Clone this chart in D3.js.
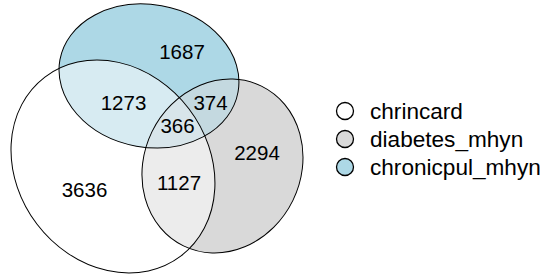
<!DOCTYPE html>
<html>
<head>
<meta charset="utf-8">
<script src="https://cdn.jsdelivr.net/npm/d3@7"></script>
<style>
  body { margin: 0; background: #fff; }
  text { font-family: "Liberation Sans", Arial, Helvetica, sans-serif; fill: #000; }
</style>
</head>
<body>
<svg id="chart"></svg>
<script>
const sets = ["chrincard", "diabetes_mhyn", "chronicpul_mhyn"];
// each combination lists the sets it belongs to (indexes into sets)
const combos = [[0], [1], [2], [0, 1], [0, 2], [1, 2], [0, 1, 2]];
const counts = [3636, 2294, 1687, 1127, 1273, 374, 366];

// euler fit of the three ellipses: centre (h, k), semi axes (a, b), rotation phi, y up
const fit = [
  {h: -4.4, k: -2.8, a: 11.24, b: 9.54, phi: -0.92},
  {h: 6.55, k: -2.75, a: 7.84, b: 8.89, phi: -0.454},
  {h: -0.8, k: 6.25, a: 9.05, b: 7.13, phi: -0.178}
];

const setColors = ["#ffffff", "#d9d9d9", "#add8e6"];

const chartSize = {width: 543, height: 274};
const box = {left: 11, right: 303, top: 4, bottom: 273};

const halfW = e => Math.sqrt((e.a * Math.cos(e.phi)) ** 2 + (e.b * Math.sin(e.phi)) ** 2);
const halfH = e => Math.sqrt((e.a * Math.sin(e.phi)) ** 2 + (e.b * Math.cos(e.phi)) ** 2);

const mixColor = idx => {
  const labs = idx.map(i => d3.lab(setColors[i]));
  return d3.lab(d3.mean(labs, c => c.l), d3.mean(labs, c => c.a), d3.mean(labs, c => c.b)).formatHex();
};

const drawEuler = () => {
  const xMin = d3.min(fit, e => e.h - halfW(e));
  const xMax = d3.max(fit, e => e.h + halfW(e));
  const yMin = d3.min(fit, e => e.k - halfH(e));
  const yMax = d3.max(fit, e => e.k + halfH(e));
  const unit = Math.min((box.right - box.left) / (xMax - xMin), (box.bottom - box.top) / (yMax - yMin));

  const x = d3.scaleLinear().domain([xMin, xMax]).range([box.left, box.left + unit * (xMax - xMin)]);
  const y = d3.scaleLinear().domain([yMin, yMax]).range([box.top + unit * (yMax - yMin), box.top]);

  const shapes = fit.map(e => ({
    cx: x(e.h), cy: y(e.k), rx: e.a * unit, ry: e.b * unit, rot: -e.phi
  }));

  const svg = d3.select("#chart")
    .attr("width", chartSize.width)
    .attr("height", chartSize.height);

  const ellipse = (sel, s) => sel
    .attr("cx", s.cx).attr("cy", s.cy)
    .attr("rx", s.rx).attr("ry", s.ry)
    .attr("transform", `rotate(${s.rot * 180 / Math.PI},${s.cx},${s.cy})`);

  const defs = svg.append("defs");
  shapes.forEach((s, i) => {
    defs.append("clipPath").attr("id", `clip${i}`)
      .append("ellipse").call(ellipse, s);
  });

  const fills = svg.append("g");
  // single sets, then pairs, then the triple on top
  const order = [...combos].sort((p, q) => p.length - q.length);
  order.forEach(c => {
    let g = fills;
    c.slice(0, -1).forEach(i => { g = g.append("g").attr("clip-path", `url(#clip${i})`); });
    g.append("ellipse").call(ellipse, shapes[c[c.length - 1]])
      .attr("fill", mixColor(c));
  });

  shapes.forEach(s => {
    svg.append("ellipse").call(ellipse, s)
      .attr("fill", "none").attr("stroke", "#000").attr("stroke-width", 1);
  });

  // label placement: point of each region farthest from any outline
  const inside = (s, px, py) => {
    const dx = px - s.cx, dy = py - s.cy;
    const u = dx * Math.cos(s.rot) + dy * Math.sin(s.rot);
    const v = -dx * Math.sin(s.rot) + dy * Math.cos(s.rot);
    return (u / s.rx) ** 2 + (v / s.ry) ** 2 <= 1;
  };
  const outline = [];
  shapes.forEach(s => {
    d3.range(0, 2 * Math.PI, Math.PI / 240).forEach(t => {
      const u = s.rx * Math.cos(t), v = s.ry * Math.sin(t);
      outline.push([s.cx + u * Math.cos(s.rot) - v * Math.sin(s.rot),
                    s.cy + u * Math.sin(s.rot) + v * Math.cos(s.rot)]);
    });
  });
  const best = {};
  for (let px = box.left; px <= box.right; px += 1.5) {
    for (let py = box.top; py <= box.bottom; py += 1.5) {
      let mask = 0;
      shapes.forEach((s, i) => { if (inside(s, px, py)) mask |= 1 << i; });
      if (!mask) continue;
      let d = Infinity;
      for (const q of outline) {
        const dd = (q[0] - px) ** 2 + (q[1] - py) ** 2;
        if (dd < d) d = dd;
      }
      if (!best[mask] || d > best[mask].d) best[mask] = {d, px, py};
    }
  }

  svg.append("g").selectAll("text")
    .data(combos)
    .join("text")
    .attr("x", c => best[d3.sum(c, i => 1 << i)].px)
    .attr("y", c => best[d3.sum(c, i => 1 << i)].py)
    .attr("dy", "0.35em")
    .attr("text-anchor", "middle")
    .attr("font-size", 20.5)
    .text((c, i) => counts[i]);

  const legend = svg.append("g").attr("transform", "translate(345,111)");
  const item = legend.selectAll("g")
    .data(sets)
    .join("g")
    .attr("transform", (d, i) => `translate(0,${i * 28})`);
  item.append("circle")
    .attr("r", 8.5)
    .attr("fill", (d, i) => setColors[i])
    .attr("stroke", "#000")
    .attr("stroke-width", 1.3);
  item.append("text")
    .attr("x", 25)
    .attr("y", 8)
    .attr("font-size", 22.6)
    .text(d => d);
};

window.onload = drawEuler;
</script>
</body>
</html>
